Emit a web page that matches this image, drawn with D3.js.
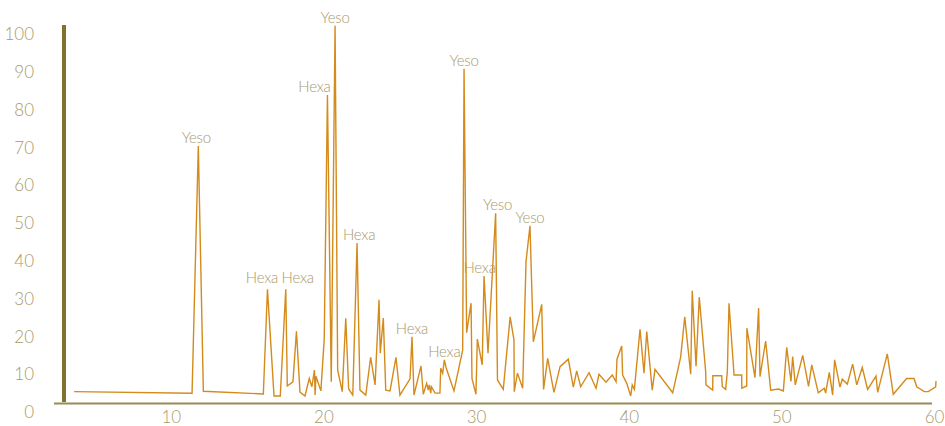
<!DOCTYPE html>
<html>
<head>
<meta charset="utf-8">
<script src="https://cdn.jsdelivr.net/npm/d3@7"></script>
<style>
  body { margin: 0; background: #fff; }
  svg { display: block; }
</style>
</head>
<body>
<svg id="chart" width="945" height="426"></svg>
<script>
// Diffraction angle (2θ) of each sampled point
const twoTheta = [
  3.66, 11.39, 11.80, 12.13, 16.06, 16.33, 16.76, 17.17, 17.53, 17.63,
  18.00, 18.23, 18.46, 18.79, 19.07, 19.24, 19.41, 19.45, 19.51, 19.83,
  20.05, 20.26, 20.51, 20.76, 20.93, 21.23, 21.46, 21.65, 21.92, 22.20,
  22.39, 22.77, 23.09, 23.38, 23.64, 23.72, 23.92, 24.08, 24.36, 24.75,
  25.01, 25.67, 25.80, 25.93, 26.39, 26.54, 26.76, 26.87, 26.93, 27.03,
  27.07, 27.31, 27.63, 27.68, 27.81, 27.92, 28.03, 28.55, 29.12, 29.21,
  29.38, 29.67, 29.73, 29.99, 30.08, 30.40, 30.52, 30.78, 31.28, 31.40,
  31.78, 32.23, 32.48, 32.50, 32.71, 33.05, 33.27, 33.53, 33.75, 34.30,
  34.42, 34.69, 35.10, 35.50, 36.04, 36.37, 36.59, 36.85, 37.40, 37.86,
  38.05, 38.51, 38.92, 39.17, 39.23, 39.54, 39.60, 39.87, 40.13, 40.23,
  40.37, 40.74, 41.00, 41.18, 41.54, 41.72, 42.88, 43.40, 43.67, 44.06,
  44.16, 44.41, 44.62, 45.04, 45.06, 45.50, 45.51, 46.09, 46.13, 46.35,
  46.46, 46.57, 46.90, 47.40, 47.41, 47.73, 47.74, 47.94, 48.27, 48.51,
  48.60, 48.97, 49.30, 49.80, 50.13, 50.35, 50.63, 50.74, 50.91, 51.40,
  51.78, 51.99, 52.42, 52.81, 52.90, 53.14, 53.36, 53.49, 53.84, 53.99,
  54.32, 54.67, 54.94, 55.30, 55.65, 56.20, 56.31, 56.94, 57.33, 58.21,
  58.69, 58.87, 59.36, 59.63, 60.11, 60.13
];

// Relative intensity (%) at each angle
const intensity = [
  3.0, 2.6, 68.0, 3.1, 2.4, 30.1, 1.85, 1.85, 30.1, 4.5,
  5.6, 19.0, 2.9, 1.85, 6.5, 4.3, 8.7, 2.1, 7.1, 3.2,
  16.9, 81.5, 5.6, 99.8, 8.7, 3.0, 22.4, 3.7, 2.1, 42.3,
  3.4, 2.1, 12.1, 4.8, 27.3, 13.2, 22.5, 3.4, 3.2, 12.1,
  2.1, 6.4, 17.5, 2.1, 9.8, 2.3, 5.2, 3.4, 4.8, 2.6,
  4.3, 2.6, 2.6, 9.2, 7.9, 11.4, 9.4, 3.2, 14.0, 88.4,
  18.6, 26.4, 6.5, 2.3, 16.9, 10.1, 33.6, 13.2, 50.2, 6.1,
  3.6, 22.8, 16.7, 3.0, 7.9, 3.9, 37.4, 46.9, 16.2, 26.1,
  3.6, 11.8, 2.8, 9.6, 11.6, 4.2, 8.5, 4.3, 8.0, 3.9,
  7.6, 5.5, 7.4, 5.6, 11.6, 15.1, 7.4, 5.2, 1.85, 4.8,
  3.6, 19.5, 7.9, 18.9, 3.4, 8.9, 2.7, 12.1, 22.8, 7.6,
  29.7, 9.7, 28.0, 8.3, 4.8, 3.4, 7.2, 7.2, 4.3, 3.6,
  8.3, 26.4, 7.4, 7.4, 3.9, 4.5, 19.8, 14.9, 6.7, 25.1,
  7.0, 16.4, 3.4, 3.7, 3.2, 14.7, 5.7, 12.3, 4.8, 12.6,
  4.4, 10.1, 2.7, 3.9, 2.6, 8.1, 2.1, 11.4, 4.2, 6.3,
  5.0, 10.3, 4.8, 9.4, 3.6, 7.1, 2.8, 13.0, 2.3, 6.5,
  6.5, 4.3, 3.0, 3.0, 4.3, 5.8
];

// Identified phases and the angle of the peak each one marks
const peakPhases = ["Yeso", "Hexa", "Hexa", "Hexa", "Yeso", "Hexa", "Hexa", "Hexa", "Yeso", "Hexa", "Yeso", "Yeso"];
const peakAngles = [11.80, 16.33, 17.53, 20.26, 20.76, 22.20, 25.80, 27.92, 29.21, 30.52, 31.28, 33.53];

const xTicks = [10, 20, 30, 40, 50, 60];
const yTicks = [0, 10, 20, 30, 40, 50, 60, 70, 80, 90, 100];

// Label nudges so neighbouring peak names do not collide
const labelShift = {
  0: [-2, 0], 1: [-5.5, -3.5], 2: [12, -3.5], 3: [-13, 0],
  5: [2, 0], 9: [-4.5, 0], 10: [2, 0]
};

const svg = d3.select("#chart");
const x = d3.scaleLinear().domain([3, 60]).range([64, 934]);
const y = d3.scaleLinear().domain([0, 100]).range([403, 25]);

const textColor = "#a99a6c";
const fontFamily = "Lato, 'Open Sans', sans-serif";

// Baseline
svg.append("line")
  .attr("x1", x(3) - 10).attr("x2", x(60) - 2)
  .attr("y1", y(0) + 0.5).attr("y2", y(0) + 0.5)
  .attr("stroke", "#978a52").attr("stroke-width", 2);

// Heavy vertical bar on the left
svg.append("rect")
  .attr("x", x(3) - 2).attr("width", 4)
  .attr("y", y(100)).attr("height", y(0) - y(100) - 1)
  .attr("fill", "#85702e");

// Axes
const yAxis = svg.append("g")
  .attr("transform", "translate(34,0)")
  .call(d3.axisLeft(y).tickValues(yTicks).tickSize(0).tickPadding(0).tickFormat(d3.format("d")));
yAxis.select(".domain").remove();
yAxis.selectAll("text")
  .attr("dy", "0.86em")
  .attr("fill", textColor)
  .style("font-family", fontFamily)
  .style("font-weight", 300)
  .style("font-size", "17px");

const xAxis = svg.append("g")
  .attr("transform", `translate(0,${y(0)})`)
  .call(d3.axisBottom(x).tickValues(xTicks).tickSize(0).tickPadding(8).tickFormat(d3.format("d")));
xAxis.select(".domain").remove();
xAxis.selectAll("text")
  .attr("fill", textColor)
  .style("font-family", fontFamily)
  .style("font-weight", 300)
  .style("font-size", "17px");

// Diffraction pattern
const points = twoTheta.map((t, i) => [t, intensity[i]]);
svg.append("path")
  .datum(points)
  .attr("fill", "none")
  .attr("stroke", "#d48b1c")
  .attr("stroke-width", 1.4)
  .attr("stroke-linejoin", "miter")
  .attr("d", d3.line().x(d => x(d[0])).y(d => y(d[1])));

// Phase labels above their peaks
svg.append("g").selectAll("text")
  .data(peakAngles)
  .join("text")
  .attr("x", (a, i) => x(a) + (labelShift[i] ? labelShift[i][0] : 0))
  .attr("y", (a, i) => {
    const k = twoTheta.indexOf(a);
    return y(intensity[k]) - 3 + (labelShift[i] ? labelShift[i][1] : 0);
  })
  .attr("text-anchor", "middle")
  .attr("fill", textColor)
  .style("font-family", fontFamily)
  .style("font-weight", 300)
  .style("font-size", "15px")
  .style("letter-spacing", "-0.2px")
  .text((a, i) => peakPhases[i]);
</script>
</body>
</html>
